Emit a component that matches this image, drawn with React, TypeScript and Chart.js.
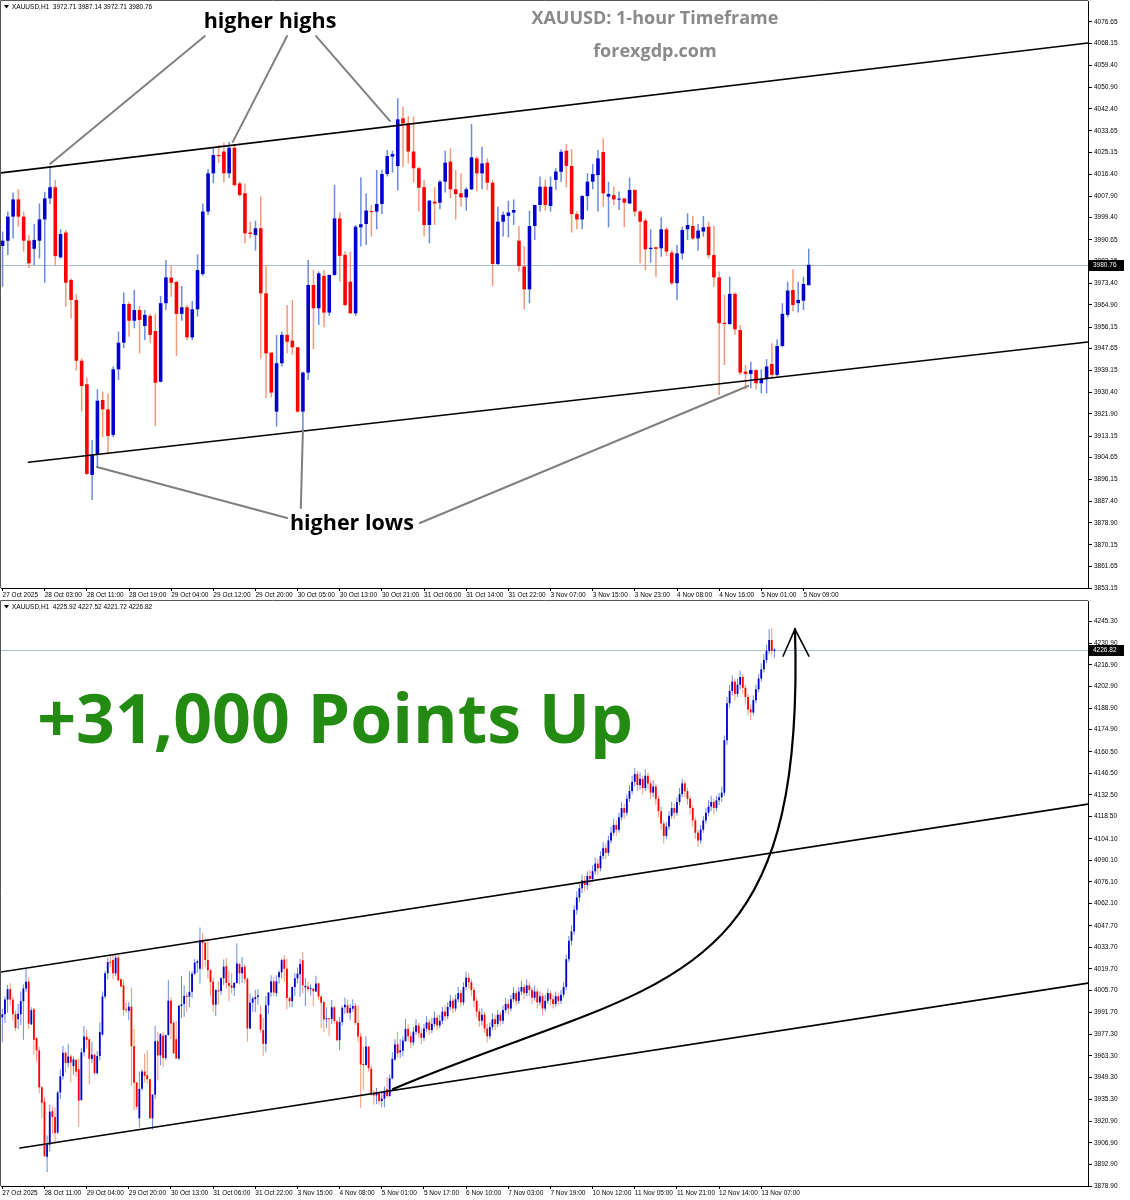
import React, { useEffect, useRef } from "react";
import { Chart, registerables } from "chart.js";

Chart.register(...registerables);

// ---- Hourly XAUUSD bars, 27 Oct 19:00 -> 5 Nov 10:00 (upper panel, 154 bars) ----
const OPEN_A = [
  3988.2, 3990.3, 3999.8, 4006.6, 3999.8, 3990.3, 3987.1, 3990.3, 3998.7, 4007.0,
  4011.4, 3983.7, 3993.5, 3974.8, 3966.9, 3942.9, 3933.6, 3897.8, 3905.7, 3927.4,
  3923.7, 3913.6, 3939.5, 3950.0, 3965.3, 3958.7, 3962.9, 3956.6, 3960.6, 3954.6,
  3934.6, 3965.6, 3975.7, 3974.0, 3961.4, 3964.0, 3952.1, 3963.2, 3977.1, 4001.8,
  4016.9, 4024.1, 4025.5, 4016.9, 4027.0, 4012.9, 4009.0, 3993.5, 3992.5, 3995.2,
  3969.5, 3946.1, 3922.8, 3941.9, 3953.1, 3950.8, 3948.2, 3922.8, 3938.2, 3972.8,
  3963.6, 3976.4, 3961.9, 3976.8, 3999.1, 3984.7, 3974.1, 3961.6, 3995.6, 3996.9,
  4002.0, 4001.8, 4004.8, 4016.6, 4023.5, 4019.8, 4038.6, 4036.6, 4025.5, 4018.9,
  4011.4, 3996.5, 4005.7, 4005.3, 4013.6, 4021.5, 4010.6, 4009.0, 4007.4, 4010.6,
  4022.8, 4016.9, 4021.1, 4013.2, 3981.1, 3997.8, 4000.1, 4001.4, 3990.3, 3980.1,
  3971.1, 3996.1, 4004.4, 4011.6, 4004.0, 4014.3, 4017.5, 4025.8, 4019.8, 4000.8,
  3998.7, 4007.9, 4013.6, 4016.2, 4025.3, 4007.7, 4008.3, 4006.5, 4007.0, 4005.0,
  4010.3, 4001.8, 3998.2, 3987.0, 3987.7, 3987.3, 3994.8, 3985.6, 3973.5, 3985.3,
  3994.8, 3996.1, 3991.2, 3993.9, 3995.8, 3984.6, 3975.8, 3957.9, 3957.4, 3969.3,
  3955.0, 3938.6, 3937.7, 3939.2, 3934.0, 3935.6, 3941.6, 3937.3, 3948.7, 3961.0,
  3970.8, 3965.6, 3966.6, 3972.71,
];
const HIGH_A = [
  3993.9, 4001.8, 4009.3, 4010.6, 4001.8, 3992.5, 3996.9, 4005.0, 4009.6, 4019.8,
  4014.3, 3994.8, 3994.5, 3975.4, 3969.2, 3943.8, 3936.3, 3911.6, 3931.6, 3930.7,
  3930.0, 3940.6, 3954.4, 3969.8, 3966.2, 3970.8, 3964.5, 3962.9, 3961.4, 3961.4,
  3968.5, 3982.7, 3980.3, 3974.5, 3972.4, 3964.9, 3966.5, 3984.9, 4005.0, 4018.5,
  4026.9, 4028.0, 4029.0, 4029.3, 4028.5, 4013.6, 4012.9, 3997.8, 3998.2, 4007.7,
  3980.7, 3946.1, 3953.1, 3954.4, 3964.9, 3966.9, 3948.2, 3938.6, 3982.7, 3978.7,
  3978.1, 3978.7, 3976.8, 4012.3, 4001.4, 3986.0, 3986.0, 3996.5, 4015.3, 4009.0,
  4004.4, 4018.2, 4018.2, 4026.1, 4025.8, 4046.5, 4043.2, 4039.5, 4039.3, 4019.5,
  4014.3, 4006.4, 4011.4, 4014.3, 4025.8, 4026.8, 4018.2, 4016.9, 4011.4, 4036.4,
  4023.5, 4027.4, 4022.8, 4014.3, 4003.7, 4001.8, 4006.1, 4006.6, 3996.1, 3988.2,
  4002.2, 4004.4, 4015.6, 4014.5, 4015.6, 4018.9, 4026.4, 4028.5, 4026.4, 4001.8,
  4008.3, 4016.9, 4020.6, 4026.1, 4030.7, 4013.6, 4011.6, 4009.7, 4007.0, 4015.2,
  4010.6, 4002.4, 3999.1, 3994.8, 3987.9, 3999.5, 3995.6, 3986.6, 3988.6, 3995.8,
  4001.1, 4000.0, 3996.9, 4000.0, 3997.8, 3996.1, 3978.1, 3968.9, 3976.1, 3969.8,
  3957.0, 3941.2, 3942.5, 3939.5, 3939.5, 3943.5, 3949.8, 3951.4, 3965.6, 3974.1,
  3979.0, 3974.1, 3976.1, 3987.14,
];
const LOW_A = [
  3972.1, 3984.6, 3991.2, 3995.8, 3986.0, 3979.4, 3980.7, 3983.3, 3973.7, 4004.8,
  3980.7, 3983.3, 3964.2, 3959.6, 3939.0, 3922.8, 3897.8, 3887.9, 3901.1, 3912.7,
  3906.1, 3912.7, 3935.3, 3947.8, 3952.4, 3955.7, 3945.8, 3951.1, 3949.8, 3917.1,
  3934.4, 3962.9, 3968.2, 3944.8, 3958.7, 3951.1, 3951.1, 3960.3, 3976.4, 4000.4,
  4013.0, 4021.0, 4013.3, 4015.0, 4011.6, 4007.7, 3989.3, 3991.2, 3986.4, 3943.8,
  3928.1, 3928.4, 3916.9, 3940.6, 3945.8, 3945.2, 3922.4, 3915.5, 3935.3, 3947.4,
  3957.0, 3956.1, 3960.6, 3976.4, 3974.1, 3964.5, 3961.6, 3960.6, 3988.0, 3988.6,
  3991.9, 3994.8, 4000.8, 4015.6, 4017.2, 4010.1, 4019.3, 4020.8, 4013.2, 4001.8,
  3991.9, 3989.3, 3996.5, 4002.7, 4009.3, 4007.0, 3998.7, 4003.7, 4002.2, 4010.3,
  4009.7, 4010.6, 4010.3, 3972.4, 3980.7, 3991.9, 3991.6, 3996.5, 3978.1, 3963.2,
  3965.6, 3990.6, 4001.8, 4002.2, 4001.8, 4010.3, 4013.6, 4011.4, 3993.5, 3994.8,
  3994.8, 4002.2, 4010.6, 4001.8, 4003.7, 3995.6, 4004.4, 4002.4, 3995.6, 4004.8,
  3999.8, 3981.4, 3978.7, 3981.6, 3976.1, 3984.0, 3984.3, 3972.8, 3966.9, 3982.9,
  3990.6, 3990.6, 3986.4, 3991.9, 3983.3, 3972.1, 3929.4, 3941.2, 3957.0, 3953.1,
  3937.3, 3931.6, 3932.0, 3931.6, 3930.0, 3930.0, 3936.0, 3936.6, 3948.2, 3960.0,
  3962.3, 3961.9, 3962.9, 3972.71,
];
const CLOSE_A = [
  3990.3, 3999.8, 4006.6, 3999.8, 3990.3, 3981.4, 3990.6, 3998.7, 4007.0, 4011.4,
  3984.2, 3992.9, 3973.7, 3966.9, 3942.9, 3932.9, 3898.2, 3905.7, 3927.1, 3923.7,
  3913.2, 3939.5, 3950.0, 3965.3, 3958.7, 3962.9, 3959.0, 3961.0, 3953.1, 3934.2,
  3965.6, 3975.8, 3973.7, 3961.4, 3964.0, 3952.1, 3963.2, 3978.7, 4001.8, 4016.9,
  4024.1, 4023.7, 4016.9, 4027.0, 4012.3, 4008.3, 3993.2, 3992.9, 3995.2, 3969.5,
  3945.8, 3930.3, 3941.9, 3953.1, 3950.4, 3948.2, 3922.8, 3938.2, 3972.8, 3963.6,
  3977.4, 3961.9, 3976.8, 3999.1, 3984.3, 3964.9, 3961.6, 3995.8, 3996.8, 4002.2,
  4001.6, 4004.8, 4016.6, 4023.7, 4024.5, 4038.2, 4036.6, 4025.5, 4018.9, 4011.2,
  3996.5, 4006.1, 4005.0, 4013.6, 4021.1, 4010.6, 4008.7, 4007.4, 4010.6, 4023.2,
  4016.9, 4020.8, 4013.2, 3981.1, 3997.8, 4000.5, 4001.4, 4002.4, 3980.3, 3971.1,
  3996.1, 4004.4, 4011.6, 4004.4, 4011.6, 4017.6, 4025.4, 4019.8, 4000.8, 3998.7,
  4007.9, 4013.6, 4016.6, 4022.8, 4009.0, 4008.7, 4006.6, 4006.8, 4005.3, 4010.3,
  4001.8, 3997.8, 3986.9, 3987.5, 3987.1, 3994.8, 3986.0, 3973.5, 3985.3, 3994.5,
  3996.5, 3991.2, 3994.3, 3995.6, 3984.6, 3975.8, 3957.7, 3957.4, 3969.3, 3955.3,
  3938.2, 3937.7, 3939.2, 3934.0, 3935.6, 3940.6, 3937.3, 3948.7, 3961.4, 3970.6,
  3964.9, 3966.9, 3973.2, 3980.76,
];

// ---- 5 Nov 11:00 -> 13 Nov (seen only in the lower panel, 140 bars) ----
const OPEN_B = [
  3980.8, 3976, 3972, 3979, 3983, 3978, 3975, 3981, 3985, 3980,
  3984, 3988, 3983, 3986, 3992, 3989, 3995, 3999, 3994, 4000,
  4004, 3998, 4008, 4014, 4011, 4006, 3999, 3992, 3986, 3990,
  3981, 3976, 3982, 3987, 3984, 3990, 3986, 3993, 3997, 3994,
  4000, 4004, 3999, 4005, 4008, 4004, 4009, 4006, 4001, 4005,
  3998, 4002, 3994, 3999, 4004, 4000, 3997, 4002, 3999, 4003,
  4008, 4026, 4038, 4044, 4058, 4066, 4072, 4077, 4074, 4080,
  4078, 4083, 4088, 4085, 4093, 4098, 4095, 4103, 4108, 4113,
  4110, 4118, 4124, 4121, 4130, 4135, 4141, 4146, 4139, 4143,
  4137, 4145, 4140, 4134, 4138, 4130, 4122, 4114, 4106, 4112,
  4119, 4124, 4121, 4128, 4133, 4140, 4135, 4130, 4124, 4116,
  4108, 4103, 4110, 4116, 4121, 4125, 4128, 4124, 4129, 4131,
  4134, 4168, 4192, 4200, 4206, 4198, 4204, 4209, 4202, 4196,
  4188, 4186, 4194, 4201, 4208, 4214, 4220, 4226, 4233, 4225.92,
];
const HIGH_B = [
  3984, 3979, 3982, 3987, 3985, 3981, 3984, 3989, 3987, 3988,
  3992, 3990, 3990, 3995, 3996, 3998, 4003, 4001, 4003, 4008,
  4006, 4011, 4018, 4017, 4013, 4008, 4001, 3994, 3994, 3992,
  3984, 3985, 3991, 3990, 3993, 3992, 3996, 4001, 4000, 4003,
  4008, 4006, 4008, 4012, 4010, 4013, 4011, 4008, 4009, 4007,
  4005, 4004, 4003, 4007, 4006, 4003, 4005, 4004, 4006, 4011,
  4029, 4041, 4048, 4061, 4070, 4076, 4081, 4080, 4083, 4084,
  4087, 4092, 4091, 4096, 4102, 4101, 4106, 4112, 4117, 4116,
  4121, 4128, 4127, 4133, 4139, 4145, 4150, 4148, 4147, 4145,
  4149, 4147, 4142, 4142, 4140, 4132, 4125, 4116, 4115, 4122,
  4128, 4127, 4131, 4137, 4143, 4142, 4137, 4132, 4126, 4118,
  4110, 4113, 4119, 4124, 4129, 4132, 4130, 4132, 4134, 4138,
  4171, 4196, 4204, 4210, 4208, 4208, 4213, 4211, 4204, 4198,
  4191, 4197, 4204, 4211, 4218, 4224, 4230, 4240, 4241, 4227.52,
];
const LOW_B = [
  3973, 3968, 3970, 3977, 3975, 3971, 3973, 3979, 3977, 3978,
  3982, 3980, 3981, 3984, 3986, 3987, 3993, 3991, 3992, 3998,
  3995, 3996, 4006, 4007, 4002, 3995, 3988, 3982, 3983, 3978,
  3972, 3974, 3980, 3980, 3982, 3983, 3984, 3991, 3990, 3992,
  3998, 3996, 3997, 4003, 4000, 4002, 4002, 3997, 3999, 3994,
  3996, 3990, 3992, 3997, 3996, 3994, 3995, 3996, 3997, 4001,
  4006, 4024, 4035, 4042, 4055, 4063, 4069, 4070, 4071, 4074,
  4076, 4081, 4081, 4083, 4091, 4091, 4093, 4101, 4106, 4106,
  4108, 4116, 4117, 4119, 4128, 4133, 4138, 4135, 4136, 4133,
  4135, 4136, 4130, 4131, 4126, 4118, 4110, 4101, 4104, 4110,
  4117, 4117, 4119, 4126, 4131, 4131, 4126, 4120, 4112, 4104,
  4099, 4101, 4108, 4114, 4119, 4122, 4120, 4122, 4126, 4128,
  4132, 4165, 4189, 4197, 4194, 4196, 4201, 4198, 4192, 4184,
  4181, 4184, 4192, 4199, 4206, 4212, 4218, 4224, 4223, 4221.72,
];
const CLOSE_B = [
  3976, 3972, 3979, 3983, 3978, 3975, 3981, 3985, 3980, 3984,
  3988, 3983, 3986, 3992, 3989, 3995, 3999, 3994, 4000, 4004,
  3998, 4008, 4014, 4011, 4006, 3999, 3992, 3986, 3990, 3981,
  3976, 3982, 3987, 3984, 3990, 3986, 3993, 3997, 3994, 4000,
  4004, 3999, 4005, 4008, 4004, 4009, 4006, 4001, 4005, 3998,
  4002, 3994, 3999, 4004, 4000, 3997, 4002, 3999, 4003, 4008,
  4026, 4038, 4044, 4058, 4066, 4072, 4077, 4074, 4080, 4078,
  4083, 4088, 4085, 4093, 4098, 4095, 4103, 4108, 4113, 4110,
  4118, 4124, 4121, 4130, 4135, 4141, 4146, 4139, 4143, 4137,
  4145, 4140, 4134, 4138, 4130, 4122, 4114, 4106, 4112, 4119,
  4124, 4121, 4128, 4133, 4140, 4135, 4130, 4124, 4116, 4108,
  4103, 4110, 4116, 4121, 4125, 4128, 4124, 4129, 4131, 4134,
  4168, 4192, 4200, 4206, 4198, 4204, 4209, 4202, 4196, 4188,
  4186, 4194, 4201, 4208, 4214, 4220, 4226, 4233, 4226, 4226.82,
];

const OPEN = [...OPEN_A, ...OPEN_B];
const HIGH = [...HIGH_A, ...HIGH_B];
const LOW = [...LOW_A, ...LOW_B];
const CLOSE = [...CLOSE_A, ...CLOSE_B];

// ---- axis labels ----
const TOP_TIME_LABELS = [
  "27 Oct 2025", "28 Oct 03:00", "28 Oct 11:00", "28 Oct 19:00", "29 Oct 04:00",
  "29 Oct 12:00", "29 Oct 20:00", "30 Oct 05:00", "30 Oct 13:00", "30 Oct 21:00",
  "31 Oct 06:00", "31 Oct 14:00", "31 Oct 22:00", "3 Nov 07:00", "3 Nov 15:00",
  "3 Nov 23:00", "4 Nov 08:00", "4 Nov 16:00", "5 Nov 01:00", "5 Nov 09:00",
];
const BOTTOM_TIME_LABELS = [
  "27 Oct 2025", "28 Oct 11:00", "29 Oct 04:00", "29 Oct 20:00", "30 Oct 13:00",
  "31 Oct 06:00", "31 Oct 22:00", "3 Nov 15:00", "4 Nov 08:00", "5 Nov 01:00",
  "5 Nov 17:00", "6 Nov 10:00", "7 Nov 03:00", "7 Nov 19:00", "10 Nov 12:00",
  "11 Nov 05:00", "11 Nov 21:00", "12 Nov 14:00", "13 Nov 07:00",
];
const TOP_PRICE_TICKS = [
  4076.65, 4068.15, 4059.4, 4050.9, 4042.4, 4033.65, 4025.15, 4016.4, 4007.9, 3999.4,
  3990.65, 3982.15, 3973.4, 3964.9, 3956.15, 3947.65, 3939.15, 3930.4, 3921.9, 3913.15,
  3904.65, 3896.15, 3887.4, 3878.9, 3870.15, 3861.65, 3853.15,
];
const BOTTOM_PRICE_TICKS = [
  4245.3, 4230.9, 4216.9, 4202.9, 4188.9, 4174.9, 4160.5, 4146.5, 4132.5, 4118.5,
  4104.1, 4090.1, 4076.1, 4062.1, 4047.7, 4033.7, 4019.7, 4005.7, 3991.7, 3977.3,
  3963.3, 3949.3, 3935.3, 3920.9, 3906.9, 3892.9, 3878.9,
];
const TOP_HEADER = "XAUUSD,H1  3972.71 3987.14 3972.71 3980.76";
const BOTTOM_HEADER = "XAUUSD,H1  4225.92 4227.52 4221.72 4226.82";

// ---- annotations, in (bar index, price) ----
const TOP_CHANNEL = [
  [-0.3, 4017.06, 206, 4068.36],
  [4.9, 3902.8, 206, 3950.3],
];
const TOP_POINTERS = [
  [38.4, 4071.1, 9.0, 4020.6],
  [54.0, 4071.1, 43.7, 4029.3],
  [59.5, 4071.1, 73.5, 4037.6],
  [54.0, 3880.8, 17.9, 3900.9],
  [56.6, 3884.7, 57.0, 3915.5],
  [79.2, 3878.8, 141.5, 3932.9],
];
const BOTTOM_CHANNEL = [
  [-0.5, 4017.7, 412, 4126.6],
  [6.7, 3903.5, 412, 4010.5],
];
const BOTTOM_CURVE = [
  [148.3, 3941.8],
  [250.0, 4015.0],
  [305.0, 4000.0],
  [300.8, 4240.1],
];
const BOTTOM_ARROW = [
  [296.3, 4222.6],
  [300.8, 4240.1],
  [306.1, 4222.6],
];

const BULL = "#0000cc";
const BEAR = "#ff0000";
const BULL_WICK = "#6b8ae0";
const BEAR_WICK = "#f39a78";
const AXIS_FONT = '"Liberation Sans", Arial, sans-serif';
const BIG_FONT = '"Open Sans", "Noto Sans", sans-serif';

function makeChart(canvas: HTMLCanvasElement, spec: any) {
  const idx = Array.from({ length: spec.bars }, (_, i) => i);
  const up = (i: number) => CLOSE[i] >= OPEN[i];

  const plugin = {
    id: "mt4look",
    beforeDatasetsDraw(chart: any) {
      const { ctx, chartArea: a, scales } = chart;
      const y = Math.round(scales.y.getPixelForValue(spec.last)) + 0.5;
      ctx.save();
      ctx.strokeStyle = "#a7bccf";
      ctx.lineWidth = 1;
      ctx.beginPath();
      ctx.moveTo(a.left, y);
      ctx.lineTo(a.right, y);
      ctx.stroke();
      ctx.restore();
    },
    afterDatasetsDraw(chart: any) {
      const { ctx, chartArea: a, scales } = chart;
      const X = (v: number) => scales.x.getPixelForValue(v);
      const Y = (v: number) => scales.y.getPixelForValue(v);
      ctx.save();
      ctx.beginPath();
      ctx.rect(a.left, a.top, a.right - a.left, a.bottom - a.top);
      ctx.clip();
      spec.annotate(ctx, X, Y);
      ctx.restore();
    },
    afterDraw(chart: any) {
      const { ctx, chartArea: a, scales } = chart;
      ctx.save();
      ctx.strokeStyle = "#555";
      ctx.lineWidth = 1;
      ctx.beginPath();
      ctx.moveTo(a.left - 0.5, a.bottom);
      ctx.lineTo(a.left - 0.5, a.top - 0.5);
      ctx.lineTo(a.right, a.top - 0.5);
      ctx.stroke();
      const y = Math.round(scales.y.getPixelForValue(spec.last));
      ctx.fillStyle = "#000";
      ctx.fillRect(a.right + 1, y - 5, 35, 11);
      ctx.fillStyle = "#fff";
      ctx.font = `6.5px ${AXIS_FONT}`;
      ctx.textBaseline = "middle";
      ctx.textAlign = "left";
      ctx.fillText(spec.last.toFixed(2), a.right + 5, y + 0.5);
      ctx.fillStyle = "#000";
      ctx.beginPath();
      ctx.moveTo(a.left + 3, a.top + 4);
      ctx.lineTo(a.left + 8, a.top + 4);
      ctx.lineTo(a.left + 5.5, a.top + 7.5);
      ctx.closePath();
      ctx.fill();
      ctx.fillText(spec.header, a.left + 11, a.top + 6);
      ctx.restore();
    },
  };

  return new Chart(canvas, {
    type: "bar",
    data: {
      datasets: [
        {
          data: idx.map((i) => ({ x: i, y: [OPEN[i], CLOSE[i]] })),
          backgroundColor: idx.map((i) => (up(i) ? BULL : BEAR)),
          barThickness: spec.body,
          minBarLength: 1,
          grouped: false,
          borderWidth: 0,
          inflateAmount: 0,
          order: 0,
        },
        {
          data: idx.map((i) => ({ x: i, y: [LOW[i], HIGH[i]] })),
          backgroundColor: idx.map((i) => (up(i) ? BULL_WICK : BEAR_WICK)),
          barThickness: spec.wick,
          grouped: false,
          borderWidth: 0,
          inflateAmount: 0,
          order: 1,
        },
      ],
    } as any,
    options: {
      animation: false,
      responsive: false,
      maintainAspectRatio: false,
      devicePixelRatio: 1,
      layout: { padding: { left: 1, top: spec.padTop, right: 0, bottom: 0 } },
      plugins: { legend: { display: false }, tooltip: { enabled: false } },
      events: [],
      scales: {
        x: {
          type: "linear",
          min: spec.xMin,
          max: spec.xMax,
          offset: false,
          grid: { drawOnChartArea: false, drawTicks: true, tickLength: 3, color: "#000", offset: false },
          border: { display: true, color: "#000" },
          afterBuildTicks: (s: any) => {
            s.ticks = spec.xLabels.map((_: string, k: number) => ({ value: k * spec.xEvery }));
          },
          afterFit: (s: any) => {
            s.height = spec.axisH;
            s.paddingLeft = 0;
            s.paddingRight = 0;
            s.paddingTop = 0;
            s.paddingBottom = 0;
          },
          ticks: {
            align: "start",
            autoSkip: false,
            maxRotation: 0,
            minRotation: 0,
            padding: 0,
            color: "#000",
            font: { family: AXIS_FONT, size: 6.5 },
            callback: (v: any) => spec.xLabels[Math.round(Number(v) / spec.xEvery)] ?? "",
          },
        },
        y: {
          type: "linear",
          position: "right",
          min: spec.yMin,
          max: spec.yMax,
          grid: { drawOnChartArea: false, drawTicks: true, tickLength: 4, color: "#000" },
          border: { display: true, color: "#000" },
          afterBuildTicks: (s: any) => {
            s.ticks = spec.yTicks.map((v: number) => ({ value: v }));
          },
          afterFit: (s: any) => {
            s.width = 42;
            s.paddingTop = 0;
            s.paddingBottom = 0;
            s.paddingLeft = 0;
            s.paddingRight = 0;
          },
          ticks: {
            autoSkip: false,
            padding: 2,
            color: "#000",
            font: { family: AXIS_FONT, size: 6.5 },
            callback: (v: any) => Number(v).toFixed(2),
          },
        },
      },
    } as any,
    plugins: [plugin],
  });
}

function seg(ctx: CanvasRenderingContext2D, X: any, Y: any, s: number[], color: string, w: number) {
  ctx.strokeStyle = color;
  ctx.lineWidth = w;
  ctx.beginPath();
  ctx.moveTo(X(s[0]), Y(s[1]));
  ctx.lineTo(X(s[2]), Y(s[3]));
  ctx.stroke();
}

const topSpec = {
  bars: OPEN_A.length,
  xMin: -0.3,
  xMax: 206,
  yMin: 3853.15,
  yMax: 4084.94,
  yTicks: TOP_PRICE_TICKS,
  xLabels: TOP_TIME_LABELS,
  xEvery: 8,
  body: 3.6,
  wick: 1.5,
  header: TOP_HEADER,
  last: CLOSE_A[CLOSE_A.length - 1],
  padTop: 1,
  axisH: 10,
  annotate: (ctx: CanvasRenderingContext2D, X: any, Y: any) => {
    ctx.lineCap = "round";
    TOP_CHANNEL.forEach((s) => seg(ctx, X, Y, s, "#000", 1.6));
    TOP_POINTERS.forEach((s) => seg(ctx, X, Y, s, "#808080", 2));
    ctx.fillStyle = "#000";
    ctx.textAlign = "center";
    ctx.textBaseline = "middle";
    ctx.font = `bold 21.5px ${BIG_FONT}`;
    ctx.fillText("higher highs", X(50.75), Y(4076.65));
    ctx.fillText("higher lows", X(66.3), Y(3878.4));
    ctx.fillStyle = "#8a8a8a";
    ctx.font = `bold 18px ${BIG_FONT}`;
    ctx.fillText("XAUUSD: 1-hour Timeframe", X(123.8), Y(4077.8));
    ctx.fillText("forexgdp.com", X(123.8), Y(4064.8));
  },
};

const bottomSpec = {
  bars: OPEN.length,
  xMin: -0.5,
  xMax: 412,
  yMin: 3878.9,
  yMax: 4258.3,
  yTicks: BOTTOM_PRICE_TICKS,
  xLabels: BOTTOM_TIME_LABELS,
  xEvery: 16,
  body: 1.8,
  wick: 1,
  header: BOTTOM_HEADER,
  last: CLOSE[CLOSE.length - 1],
  padTop: 3,
  axisH: 14,
  annotate: (ctx: CanvasRenderingContext2D, X: any, Y: any) => {
    ctx.lineCap = "round";
    BOTTOM_CHANNEL.forEach((s) => seg(ctx, X, Y, s, "#000", 1.6));
    const c = BOTTOM_CURVE;
    ctx.strokeStyle = "#000";
    ctx.lineWidth = 2.2;
    ctx.beginPath();
    ctx.moveTo(X(c[0][0]), Y(c[0][1]));
    ctx.bezierCurveTo(X(c[1][0]), Y(c[1][1]), X(c[2][0]), Y(c[2][1]), X(c[3][0]), Y(c[3][1]));
    ctx.stroke();
    ctx.lineWidth = 1.6;
    ctx.beginPath();
    ctx.moveTo(X(BOTTOM_ARROW[0][0]), Y(BOTTOM_ARROW[0][1]));
    ctx.lineTo(X(BOTTOM_ARROW[1][0]), Y(BOTTOM_ARROW[1][1]));
    ctx.lineTo(X(BOTTOM_ARROW[2][0]), Y(BOTTOM_ARROW[2][1]));
    ctx.stroke();
    ctx.fillStyle = "#238a12";
    ctx.textAlign = "center";
    ctx.textBaseline = "alphabetic";
    ctx.font = `bold 68px ${BIG_FONT}`;
    ctx.fillText("+31,000 Points Up", X(126.3), Y(4166.2));
  },
};

export default function App() {
  const topRef = useRef<HTMLCanvasElement | null>(null);
  const botRef = useRef<HTMLCanvasElement | null>(null);
  useEffect(() => {
    const a = makeChart(topRef.current as HTMLCanvasElement, topSpec);
    const b = makeChart(botRef.current as HTMLCanvasElement, bottomSpec);
    return () => {
      a.destroy();
      b.destroy();
    };
  }, []);
  return (
    <div style={{ position: "absolute", left: 0, top: 0, width: 1130, height: 1200, background: "#fff", overflow: "hidden" }}>
      <canvas ref={topRef} width={1130} height={598} style={{ position: "absolute", left: 0, top: 0, width: 1130, height: 598 }} />
      <canvas ref={botRef} width={1130} height={602} style={{ position: "absolute", left: 0, top: 598, width: 1130, height: 602 }} />
    </div>
  );
}
